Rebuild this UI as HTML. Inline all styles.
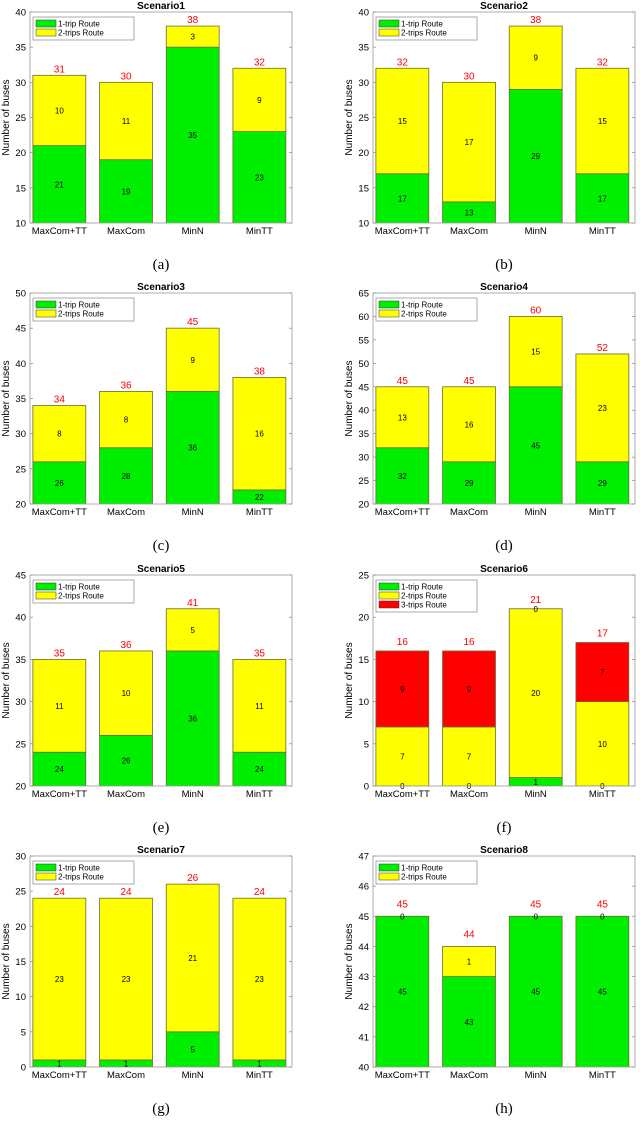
<!DOCTYPE html>
<html><head><meta charset="utf-8">
<style>
html,body{margin:0;background:#fff;width:640px;height:1121px;overflow:hidden}
svg{display:block;font-family:"Liberation Sans",sans-serif}
</style></head><body>
<svg id="fig" width="640" height="1121" viewBox="0 0 640 1121"></svg>
<script>
const categories = ["MaxCom+TT","MaxCom","MinN","MinTT"];
const titles = ["Scenario1","Scenario2","Scenario3","Scenario4","Scenario5","Scenario6","Scenario7","Scenario8"];
const captions = ["(a)","(b)","(c)","(d)","(e)","(f)","(g)","(h)"];
const yMin = [10,10,20,20,20,0,0,40];
const yMax = [40,40,50,65,45,25,30,47];
const yStep = [5,5,5,5,5,5,5,1];
const oneTrip = [[21,19,35,23],[17,13,29,17],[26,28,36,22],[32,29,45,29],[24,26,36,24],[0,0,1,0],[1,1,5,1],[45,43,45,45]];
const twoTrips = [[10,11,3,9],[15,17,9,15],[8,8,9,16],[13,16,15,23],[11,10,5,11],[7,7,20,10],[23,23,21,23],[0,1,0,0]];
const threeTrips = [null,null,null,null,null,[9,9,0,7],null,null];
const legendNames = ["1-trip Route","2-trips Route","3-trips Route"];
const colors = ["#00ee00","#ffff00","#ff0000"];

const NS="http://www.w3.org/2000/svg";
const svg=document.getElementById('fig');
function mk(tag,attrs,parent,text){const e=document.createElementNS(NS,tag);for(const k in attrs)e.setAttribute(k,attrs[k]);if(text!==undefined)e.textContent=text;parent.appendChild(e);return e;}

const rowTop=[12,293,575,856], axH=211, axW=262, colLeft=[30,373];
for(let p=0;p<8;p++){
  const L=colLeft[p%2], T=rowTop[Math.floor(p/2)], B=T+axH, R=L+axW;
  const g=mk('g',{},svg);
  
  
  const yS=v=>B-(v-yMin[p])/(yMax[p]-yMin[p])*axH;
  const xC=i=>L+axW*(0.112+0.2545*i);
  const bw=axW*0.202;
  const clipId='clip'+p;
  const cp=mk('clipPath',{id:clipId},g);mk('rect',{x:L,y:T,width:axW,height:axH},cp);
  const t=mk('text',{x:(L+R)/2,y:T-3,'text-anchor':'middle','font-size':10,'font-weight':'bold'},g,titles[p]);
  
  const yl=mk('text',{x:0,y:0,transform:`translate(${L-21},${(T+B)/2}) rotate(-90)`,'text-anchor':'middle','font-size':10},g,'Number of buses');
  
  const series=[oneTrip[p],twoTrips[p]];if(threeTrips[p])series.push(threeTrips[p]);
  const bars=mk('g',{'clip-path':`url(#${clipId})`},g);
  const offPx=p===7?12:(p===5?9:6);
  for(let i=0;i<4;i++){
    let base=0;
    series.forEach((s,k)=>{
      const y0=yS(base),y1=yS(base+s[i]);
      if(s[i]>0){const r=mk('rect',{x:xC(i)-bw/2,y:y1,width:bw,height:y0-y1,fill:colors[k],stroke:'#6b6b35','stroke-width':0.8},bars);
        }
      base+=s[i];
    });
    base=0;
    series.forEach((s,k)=>{
      const lo=Math.max(base,yMin[p]), hi=Math.min(base+s[i],yMax[p]);
      const ym=yS((lo+hi)/2);
      if(hi>=lo){const lt=mk('text',{x:xC(i),y:ym+3,'text-anchor':'middle','font-size':8},g,String(s[i]));
        }
      base+=s[i];
    });
    const tt=mk('text',{x:xC(i),y:yS(base)-offPx+3,'text-anchor':'middle','font-size':10,fill:'#ff0000'},g,String(base));
    
    const cl=mk('text',{x:xC(i),y:B+11,'text-anchor':'middle','font-size':9.5},g,categories[i]);
    
  }
  mk('rect',{x:L,y:T,width:axW,height:axH,fill:'none',stroke:'#999','stroke-width':0.8},g);
  for(let v=yMin[p];v<=yMax[p]+1e-9;v+=yStep[p]){
    const y=yS(v);
    mk('line',{x1:L,x2:L+3,y1:y,y2:y,stroke:'#888','stroke-width':0.7},g);
    mk('line',{x1:R,x2:R-3,y1:y,y2:y,stroke:'#888','stroke-width':0.7},g);
    const tl=mk('text',{x:L-4,y:y+3.5,'text-anchor':'end','font-size':9.5},g,String(v));
    
  }
  const n=series.length;
  const lg=mk('g',{},g);
  
  mk('rect',{x:L+3,y:T+5,width:101,height:5+9*n,fill:'#fff',stroke:'#888','stroke-width':0.7},lg);
  for(let k=0;k<n;k++){
    mk('rect',{x:L+6,y:T+8+9*k,width:20,height:7,fill:colors[k],stroke:'#333','stroke-width':0.5},lg);
    const le=mk('text',{x:L+28,y:T+14.5+9*k,'font-size':8},lg,legendNames[k]);
    
  }
  const cap=mk('text',{x:(L+R)/2,y:T+axH+46,'text-anchor':'middle','font-size':15,'font-family':'"Liberation Serif",serif'},svg,captions[p]);
  
}
</script>
</body></html>
